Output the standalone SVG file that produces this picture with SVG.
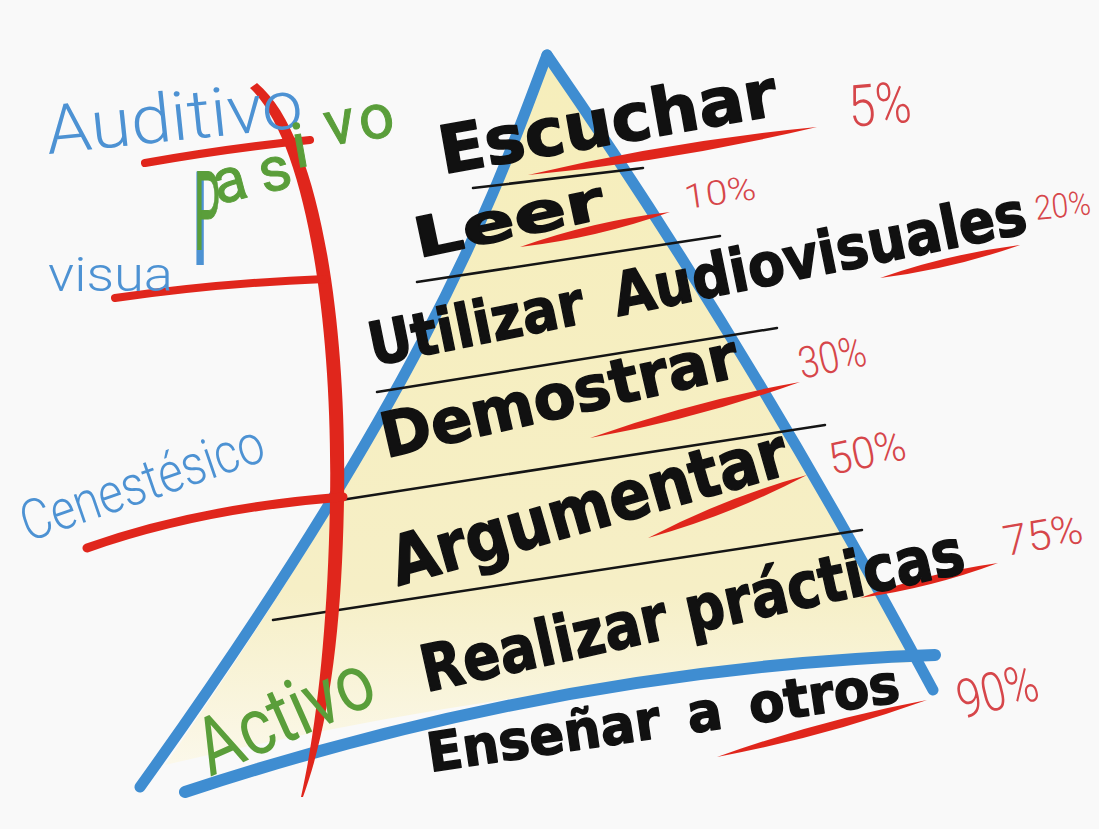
<svg xmlns="http://www.w3.org/2000/svg" width="1099" height="829" viewBox="0 0 1099 829">
<defs>
<linearGradient id="fillg" x1="0" y1="0" x2="0" y2="1">
<stop offset="0" stop-color="#f6eebb"/>
<stop offset="0.75" stop-color="#f6efc6"/>
<stop offset="1" stop-color="#fbf8ea"/>
</linearGradient>
<style>
.blue{fill:none;stroke:#3f8dd1;stroke-linecap:round;}
.red{fill:#e0261c;}
.redl{fill:none;stroke:#e0261c;stroke-linecap:round;}
.blk{fill:none;stroke:#151515;stroke-width:2.5;stroke-linecap:round;}
.mk{font-family:"DejaVu Sans","Liberation Sans",sans-serif;font-weight:bold;fill:#111;stroke:#111;stroke-width:1.5;stroke-linejoin:round;}
.pct{font-family:Roboto,"Liberation Sans",sans-serif;font-weight:300;fill:#d6464a;}
.lb{font-family:Roboto,"Liberation Sans",sans-serif;font-weight:300;fill:#4d92d3;}
.lg{font-family:Roboto,"Liberation Sans",sans-serif;font-weight:400;fill:#5a9e3a;}
</style>
</defs>
<rect width="1099" height="829" fill="#f9f9f9"/>

<g id="pyramid">
<path d="M547,62 C 503,172 445,362 165,765 Q 560,672 922,662 Q 745,340 547,62 Z" fill="url(#fillg)"/>
<path class="blue" stroke-width="11" d="M547,55 C 503,168 445,362 140,787"/>
<path class="blue" stroke-width="11" d="M547,55 Q 745,340 933,690"/>
<path class="blue" stroke-width="12" d="M185,792 Q 560,668 935,655"/>
</g>

<g id="lines">
<path class="blk" d="M473,188 L643,168"/>
<path class="blk" d="M417,282 L720,236"/>
<path class="blk" d="M377,392 L777,328"/>
<path class="blk" d="M341,500 L825,425"/>
<path class="blk" d="M273,620 L862,530"/>
</g>

<g id="red-marks">
<path class="red" d="M250,88 C 308,143 333,330 330,500 C 328,620 318,720 301,797 L303,797 C 331,720 342,620 344,500 C 347,330 322,137 257,83 Z"/>
<path class="redl" stroke-width="8" d="M145,163 Q 230,148 310,140"/>
<path class="redl" stroke-width="8" d="M115,298 Q 220,283 325,279"/>
<path class="redl" stroke-width="9" d="M87,548 Q 200,508 343,497"/>
<path class="red" d="M528,175 Q674,161 817,127 Q671,141 528,175Z"/>
<path class="red" d="M520,247 Q597,238 670,212 Q593,221 520,247Z"/>
<path class="red" d="M880,278 Q952,269 1020,245 Q948,254 880,278Z"/>
<path class="red" d="M590,438 Q697,419 800,382 Q693,401 590,438Z"/>
<path class="red" d="M648,538 Q731,515 807,475 Q724,498 648,538Z"/>
<path class="red" d="M860,598 Q931,588 998,563 Q927,573 860,598Z"/>
<path class="red" d="M717,757 Q824,737 927,700 Q820,720 717,757Z"/>
</g>

<g id="styles-labels">
<text class="lb" transform="translate(48,154) rotate(-6)" font-size="68" textLength="258" lengthAdjust="spacingAndGlyphs">Auditivo</text>
<text class="lb" font-size="48"><tspan x="48" y="291" textLength="125" lengthAdjust="spacingAndGlyphs">visua</tspan><tspan x="186" y="265" font-size="125">l</tspan></text>
<text class="lb" transform="translate(28,542) rotate(-19)" font-size="56" textLength="254" lengthAdjust="spacingAndGlyphs">Cenestésico</text>
<text class="lg" stroke="#5a9e3a" stroke-width="1"><tspan x="194" y="250" font-size="110" textLength="26" lengthAdjust="spacingAndGlyphs">P</tspan><tspan x="218 264 296 328 362" y="205 194 168 146 141" font-size="62" rotate="-15 -15 -10 -10 -10">asivo</tspan></text>
<text class="lg" font-weight="300" transform="translate(210,777) rotate(-24)" font-size="80" textLength="187" lengthAdjust="spacingAndGlyphs">Activo</text>
</g>

<g id="levels">
<text class="mk" transform="translate(443,174) rotate(-10)" font-size="66" textLength="342" lengthAdjust="spacingAndGlyphs">Escuchar</text>
<text class="mk" transform="translate(418,258) rotate(-12)" font-size="55" textLength="193" lengthAdjust="spacingAndGlyphs">Leer</text>
<text class="mk" transform="translate(373,366) rotate(-11.5)" font-size="60" word-spacing="14" textLength="670" lengthAdjust="spacingAndGlyphs">Utilizar Audiovisuales</text>
<text class="mk" transform="translate(386,458) rotate(-13)" font-size="62" textLength="365" lengthAdjust="spacingAndGlyphs">Demostrar</text>
<text class="mk" transform="translate(398,586) rotate(-16)" font-size="68" textLength="410" lengthAdjust="spacingAndGlyphs">Argumentar</text>
<text class="mk" transform="translate(426,692) rotate(-12.5)" font-size="64" textLength="555" lengthAdjust="spacingAndGlyphs">Realizar prácticas</text>
<text class="mk" transform="translate(430,772) rotate(-8.5)" font-size="54" word-spacing="10" textLength="477" lengthAdjust="spacingAndGlyphs">Enseñar a otros</text>
</g>

<g id="percentages">
<text class="pct" transform="translate(850,127) rotate(-5)" font-size="58" textLength="63" lengthAdjust="spacingAndGlyphs">5%</text>
<text class="pct" transform="translate(686,209) rotate(-8)" font-size="34" textLength="72" lengthAdjust="spacingAndGlyphs">10%</text>
<text class="pct" transform="translate(1036,220) rotate(-6)" font-size="34" textLength="56" lengthAdjust="spacingAndGlyphs">20%</text>
<text class="pct" transform="translate(802,379) rotate(-12)" font-size="44" textLength="68" lengthAdjust="spacingAndGlyphs">30%</text>
<text class="pct" transform="translate(832,475) rotate(-12)" font-size="44" textLength="78" lengthAdjust="spacingAndGlyphs">50%</text>
<text class="pct" transform="translate(1006,556) rotate(-10)" font-size="42" textLength="80" lengthAdjust="spacingAndGlyphs">75%</text>
<text class="pct" transform="translate(962,719) rotate(-14)" font-size="54" textLength="82" lengthAdjust="spacingAndGlyphs">90%</text>
</g>
</svg>
